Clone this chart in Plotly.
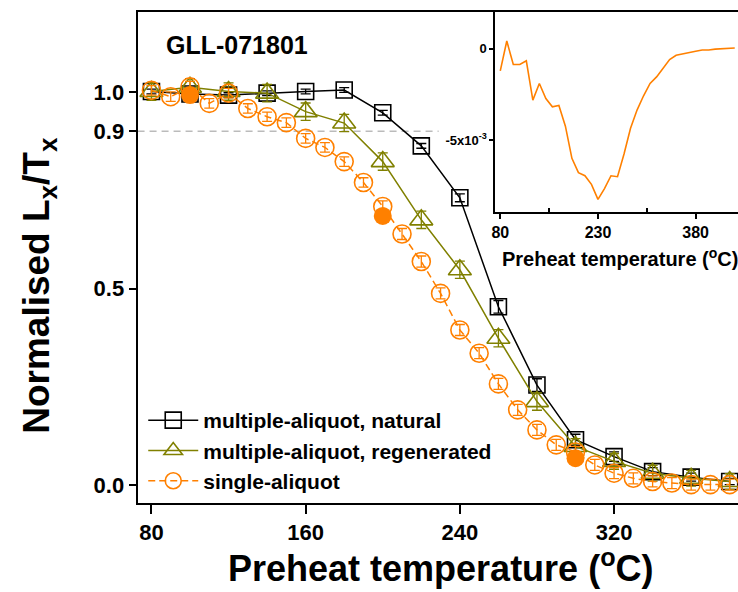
import plotly.graph_objects as go

# ---- main panel: normalised Lx/Tx versus preheat temperature ----
temp_multi = [80, 100, 120, 140, 160, 180, 200, 220, 240, 260, 280, 300, 320, 340, 360, 380]
natural = [1.001, 0.995, 0.992, 0.997, 1.001, 1.005, 0.947, 0.863, 0.731, 0.454,
           0.255, 0.116, 0.073, 0.035, 0.021, 0.010]
natural_err = [0.006, 0.006, 0.006, 0.006, 0.006, 0.006, 0.006, 0.006, 0.010, 0.016,
               0.016, 0.014, 0.012, 0.010, 0.010, 0.008]
regenerated = [1.001, 1.012, 1.001, 0.997, 0.950, 0.921, 0.823, 0.675, 0.548, 0.374,
               0.213, 0.099, 0.061, 0.031, 0.018, 0.010]
regenerated_err = [0.022, 0.022, 0.022, 0.022, 0.022, 0.022, 0.022, 0.022, 0.022, 0.022,
                   0.022, 0.020, 0.020, 0.020, 0.020, 0.020]

temp_single = [80, 90, 100, 110, 120, 130, 140, 150, 160, 170, 180, 190, 200, 210, 220,
               230, 240, 250, 260, 270, 280, 290, 300, 310, 320, 330, 340, 350, 360, 370, 380]
single = [1.004, 0.988, 1.013, 0.971, 0.997, 0.958, 0.937, 0.922, 0.882, 0.859, 0.823,
          0.770, 0.709, 0.639, 0.569, 0.488, 0.395, 0.336, 0.258, 0.192, 0.141, 0.103,
          0.085, 0.052, 0.031, 0.018, 0.010, 0.006, 0.002, 0.002, 0.002]
single_err = [0.012, 0.012, 0.014, 0.012, 0.012, 0.012, 0.012, 0.012, 0.012, 0.012, 0.012,
              0.012, 0.014, 0.014, 0.014, 0.014, 0.014, 0.014, 0.014, 0.014, 0.014, 0.014,
              0.014, 0.014, 0.014, 0.014, 0.014, 0.014, 0.014, 0.014, 0.014]

temp_filled = [100, 200, 300]
filled = [0.992, 0.685, 0.069]

# ---- inset: derivative of the single-aliquot curve (x10^-3) ----
temp_inset = [80, 90, 100, 110, 120, 130, 140, 150, 160, 170, 180, 190, 200, 210, 220,
              230, 240, 250, 260, 270, 280, 290, 300, 310, 320, 330, 340, 350, 360, 370,
              380, 390, 400, 410, 420, 430, 440]
deriv_e3 = [-1.22, 0.41, -0.87, -0.87, -0.67, -2.82, -1.91, -2.73, -3.18, -3.11, -4.24,
            -6.00, -6.78, -6.95, -7.42, -8.24, -7.65, -6.95, -7.00, -5.76, -4.36, -3.36,
            -2.58, -1.91, -1.55, -1.09, -0.60, -0.37, -0.31, -0.22, -0.15, -0.08, -0.08,
            -0.03, -0.02, 0.00, 0.03]

BLACK = "#000000"
OLIVE = "#808000"
ORANGE = "#FF8000"
FONT = "Liberation Sans"

W, H = 738, 592


def px_x(p):
    return p / W


def px_y(p):
    return 1 - p / H


fig = go.Figure()

fig.add_trace(go.Scatter(
    x=temp_multi, y=natural, name="multiple-aliquot, natural",
    mode="lines+markers",
    line=dict(color=BLACK, width=1.5),
    marker=dict(symbol="square-open", size=16, color=BLACK, line=dict(width=1.6)),
    error_y=dict(type="data", array=natural_err, color=BLACK, thickness=1.3, width=5),
))
fig.add_trace(go.Scatter(
    x=temp_multi, y=regenerated, name="multiple-aliquot, regenerated",
    mode="lines+markers",
    line=dict(color=OLIVE, width=1.5),
    marker=dict(symbol="triangle-up-open", size=20, color=OLIVE, line=dict(width=1.6)),
    error_y=dict(type="data", array=regenerated_err, color=OLIVE, thickness=1.3, width=5),
))
fig.add_trace(go.Scatter(
    x=temp_single, y=single, name="single-aliquot",
    mode="lines+markers",
    line=dict(color=ORANGE, width=1.5, dash="7px,4px"),
    marker=dict(symbol="circle-open", size=18, color=ORANGE, line=dict(width=1.6)),
    error_y=dict(type="data", array=single_err, color=ORANGE, thickness=1.3, width=5),
))
fig.add_trace(go.Scatter(
    x=temp_filled, y=filled, mode="markers", showlegend=False,
    marker=dict(symbol="circle", size=18, color=ORANGE),
))

fig.add_trace(go.Scatter(
    x=temp_inset, y=deriv_e3, mode="lines", showlegend=False,
    line=dict(color=ORANGE, width=1.6),
    xaxis="x2", yaxis="y2",
))

# 90 % reference level
fig.add_shape(type="line", xref="x", yref="y", x0=72.8, x1=229, y0=0.9, y1=0.9,
              line=dict(color="#BBBBBB", width=1.5, dash="7px,5px"), layer="below")

tick_font = dict(family=FONT, size=22, color=BLACK, weight="bold")

fig.update_layout(
    width=W, height=H,
    margin=dict(l=0, r=0, t=0, b=0),
    paper_bgcolor="white", plot_bgcolor="white",
    font=dict(family=FONT, color=BLACK),
    xaxis=dict(
        domain=[px_x(134.3), 1], range=[72.8, 384.3],
        showline=True, linecolor=BLACK, linewidth=2, mirror=True,
        ticks="outside", ticklen=9, tickwidth=2, tickcolor=BLACK,
        tickvals=[80, 160, 240, 320], tickfont=tick_font,
        showgrid=False, zeroline=False,
    ),
    yaxis=dict(
        domain=[px_y(502.7), px_y(12.3)], range=[-0.044, 1.2025],
        showline=True, linecolor=BLACK, linewidth=2,
        ticks="outside", ticklen=7, tickwidth=2, tickcolor=BLACK,
        tickvals=[0, 0.5, 0.9, 1.0], ticktext=["0.0", "0.5", "0.9", "1.0"],
        tickfont=tick_font, showgrid=False, zeroline=False,
    ),
    xaxis2=dict(
        domain=[px_x(494), 1], range=[72.4, 445], anchor="y2",
        showline=True, linecolor=BLACK, linewidth=2, mirror=True,
        ticks="outside", ticklen=5, tickwidth=1.5, tickcolor=BLACK,
        tickvals=[80, 230, 380],
        tickfont=dict(family=FONT, size=16, color=BLACK, weight="bold"),
        minor=dict(tickvals=[155, 305], ticks="inside", ticklen=4, tickwidth=1.5,
                   tickcolor=BLACK),
        showgrid=False, zeroline=False,
    ),
    yaxis2=dict(
        domain=[px_y(212), px_y(12.3)], range=[-8.93, 1.98], anchor="x2",
        showline=True, linecolor=BLACK, linewidth=2,
        ticks="outside", ticklen=4, tickwidth=1.5, tickcolor=BLACK,
        tickvals=[-5, 0], ticktext=["-5x10<sup>-3</sup>", "0"],
        tickfont=dict(family=FONT, size=13, color=BLACK, weight="bold"),
        showgrid=False, zeroline=False,
    ),
    legend=dict(
        x=px_x(140), y=px_y(400), xanchor="left", yanchor="top",
        bgcolor="rgba(0,0,0,0)", borderwidth=0,
        font=dict(family=FONT, size=21, color=BLACK, weight="bold"),
        tracegroupgap=0, itemwidth=50,
    ),
    showlegend=True,
)

fig.add_annotation(text="GLL-071801", xref="paper", yref="paper",
                   x=px_x(234), y=px_y(45), xanchor="center", yanchor="middle",
                   showarrow=False,
                   font=dict(family=FONT, size=25, color=BLACK, weight="bold"))
fig.add_annotation(text="Preheat temperature (<sup>o</sup>C)", xref="paper", yref="paper",
                   x=px_x(439), y=px_y(566), xanchor="center", yanchor="middle",
                   showarrow=False,
                   font=dict(family=FONT, size=36, color=BLACK, weight="bold"))
fig.add_annotation(text="Normalised L<sub>x</sub>/T<sub>x</sub>", xref="paper", yref="paper",
                   x=px_x(35), y=px_y(285), xanchor="center", yanchor="middle",
                   textangle=-90, showarrow=False,
                   font=dict(family=FONT, size=37, color=BLACK, weight="bold"))
fig.add_annotation(text="Preheat temperature (<sup>o</sup>C)", xref="paper", yref="paper",
                   x=px_x(619), y=px_y(258), xanchor="center", yanchor="middle",
                   showarrow=False,
                   font=dict(family=FONT, size=20, color=BLACK, weight="bold"))

fig.write_html("out.html")
